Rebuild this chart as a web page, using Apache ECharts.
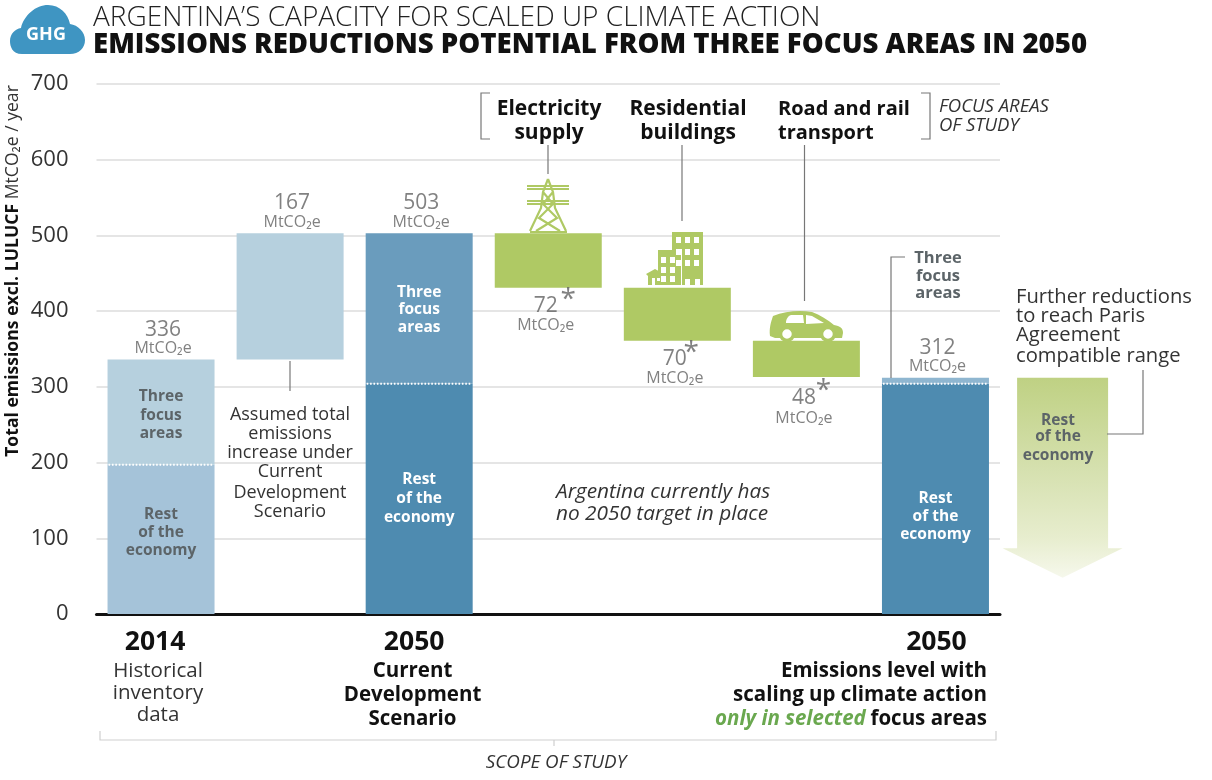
<!DOCTYPE html>
<html><head><meta charset="utf-8">
<script src="https://cdn.jsdelivr.net/npm/echarts@6/dist/echarts.min.js"></script>
<style>html,body{margin:0;padding:0;background:#fff}#c{width:1212px;height:780px}</style>
</head><body><div id="c"></div>
<script>
const F = '"Open Sans", sans-serif';
const categories = ['2014','Added','2050','Electricity','Residential','Transport','2050 scaled'];
const yearLabels = ['2014','','2050','','','','2050'];
const yTicks = [0,100,200,300,400,500,600,700];
const baseValues = [0,336,0,431,361,313,0];
const restValues = [197,null,304,null,null,null,304];
const focusValues = [139,null,199,null,null,null,8];
const addedValues = [null,167,null,null,null,null,null];
const reductionValues = [null,null,null,72,70,48,null];
const totalTops = [336,503,503,null,null,null,312];
const totalLabels = [336,167,503,null,null,null,312];
const dividerValues = [197,null,304,null,null,null,304];
const restColors = ['#a5c3d9',null,'#4e8bb0',null,null,null,'#4e8bb0'];
const focusColors = ['#b6d0de',null,'#6a9cbd',null,null,null,'#8fb6d0'];
const arrowTop = 312, arrowShoulder = 87, arrowTip = 48;
const BARW = 107;

let shapeId=0;
function T(text,x,y,o={}){return {type:'text',silent:true,x,y:o.rot?y:y+1,rotation:o.rot||0,z:o.z||20,style:{text,fill:o.c||'#333',font:`${o.s||'normal'} ${o.w||400} ${o.f||18}px ${F}`,align:o.a||'center',verticalAlign:'middle',lineHeight:o.lh,rich:o.rich}};}
function L(d,o={}){const name='svgp'+(shapeId++);echarts.graphic.registerShape(name,echarts.graphic.extendPath(d,{}));return {type:name,silent:true,z:o.z||15,style:{fill:o.fill||'none',stroke:o.stroke||'#777',lineWidth:o.lw==null?1.2:o.lw}};}
function R(x,y,w,h,c){return {type:'rect',silent:true,z:16,shape:{x,y,width:w,height:h},style:{fill:c}};}
const G='#afc964';
function lines(arr,x,ys,o){return arr.map((s,i)=>T(s,x,ys[i],o));}
const g=[
 // logo
 L('M22 54 C12 54 10 46 10 41 C10 34 15 29 21 28 C24 15 36 5 48 5 C60 5 68 14 70 24 C78 25 85 32 85 40 C85 48 79 54 70 54 Z',{fill:'#3f95c2',stroke:'none',lw:0}),
 T('GHG',46,34,{c:'#fff',w:700,f:18}),
 // title
 T('ARGENTINA’S CAPACITY FOR SCALED UP CLIMATE ACTION',93,17,{a:'left',f:28,w:300,c:'#222'}),
 T('EMISSIONS REDUCTIONS POTENTIAL FROM THREE FOCUS AREAS IN 2050',93,44.5,{a:'left',f:27.6,w:800,c:'#111'}),
 // y title
 T('{b|Total emissions excl. LULUCF} {l|MtCO₂e / year}',13,271,{rot:Math.PI/2,rich:{b:{font:`700 17.6px ${F}`,fill:'#111'},l:{font:`400 17.6px ${F}`,fill:'#333'}}}),
 // focus heading
 ...lines(['Electricity','supply'],549,[108.5,132.5],{w:700,f:21,c:'#111'}),
 ...lines(['Residential','buildings'],688,[108.5,132.5],{w:700,f:21,c:'#111'}),
 ...lines(['Road and rail','transport'],778,[108.5,132.5],{w:700,f:20,c:'#111',a:'left'}),
 ...lines(['FOCUS AREAS','OF STUDY'],939,[106,125],{s:'italic',f:18.5,a:'left',c:'#333'}),
 L('M490 93 H481 V139 H490'), L('M921 93 H930 V139 H921'),
 L('M548 145 V174'), L('M682 145 V221'), L('M804.5 145 V301'),
 // pylon
 L('M548 179 L553 192 L555 208 L566 231 M548 179 L543 192 L541 208 L530 231 M527 186 H569 M527 189 H569 M527 201 H569 M527 204 H569 M543 192 L553 204 L539 218 L560 231 M553 192 L543 204 L557 218 L536 231 M530 232 H567',{stroke:G,lw:2.2}),
 // buildings
 R(672,232,31,53,G),R(658,250,23,35,G),
 L('M646 274 L655 269 L664 274 L662 276 V285 H648 V276 Z',{fill:G,stroke:'none',lw:0}),
 R(681,249,1,36,'#fff'),R(652,278,3,7,'#fff'),R(657,278,3,3,'#fff'),
 ...[238,250,261].flatMap(y=>[676,685,694].map(x=>R(x,y-1,5,6,'#fff'))),
 ...[276].flatMap(y=>[685,695].map(x=>R(x,y+3,5,6,'#fff'))),
 ...[257,267,276].flatMap(y=>[661,670].map(x=>R(x,y,5,6,'#fff'))),
 // car
 L('M770 336 C769 328 771 322 773 316 C785 311 800 310 812 312 C820 315 828 320 834 325 C840 326 843 328 843 333 L842 338 H775 Z',{fill:G,stroke:'none',lw:0}),
 L('M786 323 C786 319 788 316 791 315 L803 315 L804 323 Z M806 315 L812 316 L824 323 L806 324 Z',{fill:'#fff',stroke:'none',lw:0}),
 {type:'circle',silent:true,z:17,shape:{cx:787,cy:334,r:6.5},style:{fill:'#fff',stroke:G,lineWidth:3.5}},
 {type:'circle',silent:true,z:17,shape:{cx:828,cy:334,r:6.5},style:{fill:'#fff',stroke:G,lineWidth:3.5}},
 // notes
 L('M290 361 V391'),
 ...lines(['Assumed total','emissions','increase under','Current','Development','Scenario'],290,[414,433,452,471,492,511],{f:18,c:'#333'}),
 ...lines(['Argentina currently has','no 2050 target in place'],556,[491,513],{s:'italic',f:20.8,a:'left',c:'#333'}),
 ...lines(['Three','focus','areas'],938,[257,275,292],{w:700,f:16.5,c:'#5c6468'}),
 L('M905 257 H891 V378'),
 ...lines(['Further reductions','to reach Paris','Agreement','compatible range'],1016,[296,315,334,355],{f:20.2,a:'left',c:'#333'}),
 L('M1143 370 V434 H1107'),
 ...lines(['Rest','of the','economy'],1058,[420,436,455],{w:700,f:15.5,c:'#5c6468'}),
 // x descriptions
 ...lines(['Historical','inventory','data'],158,[670,692,714],{f:20.5,c:'#333'}),
 ...lines(['Current','Development','Scenario'],412.5,[670,694,718],{f:20.5,w:700,c:'#111'}),
 ...lines(['Emissions level with','scaling up climate action'],987,[670,694],{f:20.5,w:700,a:'right',c:'#111'}),
 T('{g|only in selected} {b|focus areas}',987,718,{a:'right',rich:{g:{font:`italic 700 20.5px ${F}`,fill:'#6aa84f'},b:{font:`700 20.5px ${F}`,fill:'#111'}}}),
 // scope
 L('M100 731 V740 H996 V731 M554 740 V746',{stroke:'#cfcfcf',lw:1.2}),
 T('SCOPE OF STUDY',556,762,{s:'italic',f:18.8,c:'#333'}),
];

const inner=(txt,c,dy=0,lh=18)=>({show:true,position:'inside',offset:[0,dy],formatter:txt,color:c,fontFamily:F,fontWeight:700,fontSize:15.5,lineHeight:lh});
const restLabels=[inner('Rest\nof the\neconomy','#5c6468',-7,18),null,inner('Rest\nof the\neconomy','#fff',-0.5,19),null,null,null,inner('Rest\nof the\neconomy','#fff',17.5,18)];
const focusLabels=[inner('Three\nfocus\nareas','#5c6468',3,18.5),null,inner('Three\nfocus\nareas','#fff',1.5,17.5),null,null,null,null];
const opt={
 animation:false,
 graphic:{elements:g},
 grid:{left:96.5,top:84,width:903.5,height:530,containLabel:false},
 xAxis:{type:'category',data:categories,axisTick:{show:false},
  axisLine:{lineStyle:{color:'#111',width:3}},
  axisLabel:{margin:15,interval:0,
   formatter:(v,i)=>yearLabels[i]?`{y${i}|${yearLabels[i]}}`:'',
   rich:{y0:{color:'#111',fontFamily:F,fontWeight:700,fontSize:26.5,padding:[0,12,0,0]},
         y2:{color:'#111',fontFamily:F,fontWeight:700,fontSize:26.5,padding:[0,10,0,0]},
         y6:{color:'#111',fontFamily:F,fontWeight:700,fontSize:26.5,padding:[0,0,0,2]}}}},
 yAxis:{type:'value',min:0,max:700,interval:100,
  axisLine:{show:false},axisTick:{show:false},
  splitLine:{lineStyle:{color:'#dcdcdc',width:1.5}},
  axisLabel:{margin:28,color:'#333',fontFamily:F,fontSize:22,padding:[3,0,0,0],formatter:v=>yTicks.includes(v)?String(v):''}},
 series:[
  {name:'base',type:'bar',stack:'s',barWidth:BARW,data:baseValues,itemStyle:{color:'transparent'},silent:true},
  {name:'Rest of the economy',type:'bar',stack:'s',barWidth:BARW,
   data:restValues.map((v,i)=>v==null?null:{value:v,itemStyle:{color:restColors[i]},label:restLabels[i]})},
  {name:'Three focus areas',type:'bar',stack:'s',barWidth:BARW,
   data:focusValues.map((v,i)=>v==null?null:{value:v,itemStyle:{color:focusColors[i]},label:focusLabels[i]||{show:false}})},
  {name:'Assumed increase',type:'bar',stack:'s',barWidth:BARW,data:addedValues,itemStyle:{color:'#b6d0de'}},
  {name:'Reductions',type:'bar',stack:'s',barWidth:BARW,data:reductionValues,itemStyle:{color:G}},
  {name:'totals',type:'scatter',symbolSize:0,silent:true,z:10,
   data:totalTops.map((v,i)=>v==null?null:[i,v,totalLabels[i]]).filter(Boolean),
   label:{show:true,position:'top',distance:3,offset:[2,0],formatter:p=>`{v|${p.value[2]}}\n{u|MtCO₂e}`,
    rich:{v:{fontFamily:F,fontSize:21,color:'#616161',lineHeight:22,align:'center'},u:{fontFamily:F,fontSize:16,color:'#616161',lineHeight:16,align:'center'}}}},
  {name:'reductionLabels',type:'scatter',symbolSize:0,silent:true,z:10,
   data:reductionValues.map((v,i)=>v==null?null:[i,baseValues[i],v]).filter(Boolean).map((d,k)=>({value:d,label:{offset:[-2.5,k===2?3:0]}})),
   label:{show:true,position:'bottom',distance:6,formatter:p=>`{v|${p.value[2]}}\n{u|MtCO₂e}`,
    rich:{v:{fontFamily:F,fontSize:21,color:'#616161',lineHeight:24,align:'center'},u:{fontFamily:F,fontSize:16,color:'#616161',lineHeight:16,align:'center'}}}},
  {name:'reductionStars',type:'scatter',symbolSize:0,silent:true,z:10,
   data:reductionValues.map((v,i)=>v==null?null:[i,baseValues[i]]).filter(Boolean).map((d,k)=>({value:d,label:{offset:[k===2?17:(k===0?20:14),k===2?-2:-4]}})),
   label:{show:true,position:'bottom',distance:2,formatter:'*',fontFamily:F,fontSize:28,color:'#616161',lineHeight:28}},
  {name:'dividers',type:'custom',silent:true,z:5,clip:false,
   data:dividerValues.map((v,i)=>v==null?null:[i,v]).filter(Boolean),encode:{x:0,y:1},
   renderItem:(p,api)=>{const c=api.coord([api.value(0),api.value(1)]);
    return {type:'line',shape:{x1:c[0]-BARW/2+1,y1:c[1],x2:c[0]+BARW/2-1,y2:c[1]},style:{stroke:'#fff',lineWidth:2,lineDash:[1.6,1.8]}};}},
  {name:'Further reductions',type:'custom',silent:true,z:3,clip:false,
   data:[[6,arrowTop,arrowShoulder,arrowTip]],encode:{x:0,y:1},
   renderItem:(p,api)=>{
    const x=api.coord([api.value(0),0])[0]+api.size([1,0])[0]*0.985;
    const top=api.coord([6,api.value(1)])[1],sh=api.coord([6,api.value(2)])[1],tip=api.coord([6,api.value(3)])[1];
    const b=45.5,h=60;
    return {type:'polygon',shape:{points:[[x-b,top],[x+b,top],[x+b,sh],[x+h,sh],[x,tip],[x-h,sh],[x-b,sh]]},
     style:{fill:new echarts.graphic.LinearGradient(0,0,0,1,[{offset:0,color:'#bfd183'},{offset:0.45,color:'#d5e0ae'},{offset:0.8,color:'#e7edce'},{offset:1,color:'#f6f8ec'}])}};}}
 ]
};
const chart=echarts.init(document.getElementById('c'),null,{renderer:'canvas'});
chart.setOption(opt);
</script></body></html>
